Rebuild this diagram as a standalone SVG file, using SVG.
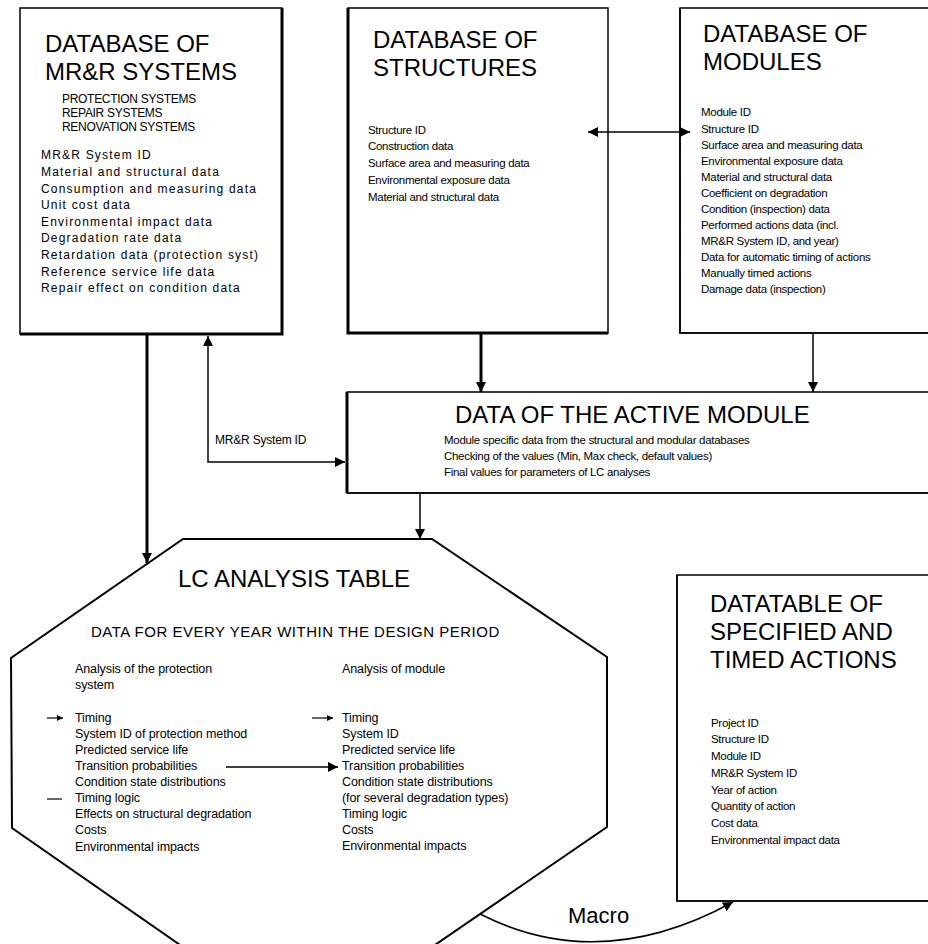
<svg xmlns="http://www.w3.org/2000/svg" width="928" height="944" viewBox="0 0 928 944">
<defs>
<style>
text{font-family:"Liberation Sans",Arial,sans-serif;fill:#000}
.t{font-size:24px}
.s{font-size:11.5px;letter-spacing:-0.3px}
.w{font-size:12px;letter-spacing:1.2px}
.sub{font-size:12px;letter-spacing:-0.3px}
.o{font-size:12.5px;letter-spacing:-0.1px}
.box{fill:#fff;stroke:#000;stroke-width:1.5}
.thk{stroke:#000;stroke-width:3;fill:none}
.ln{stroke:#000;stroke-width:1.5;fill:none}
.lnb{stroke:#000;stroke-width:3;fill:none}
</style>
<marker id="ah" viewBox="0 0 10 10" refX="10" refY="5" markerWidth="10" markerHeight="10" markerUnits="userSpaceOnUse" orient="auto-start-reverse"><path d="M0,0 L10,5 L0,10 z" fill="#000"/></marker>
<marker id="ahs" viewBox="0 0 10 10" refX="10" refY="5" markerWidth="7" markerHeight="6" markerUnits="userSpaceOnUse" orient="auto"><path d="M0,0 L10,5 L0,10 z" fill="#000"/></marker>
</defs>
<rect width="928" height="944" fill="#fff"/>

<g id="db-mrr">
<rect class="box" x="20" y="8" width="262" height="326"/>
<path class="thk" d="M282,8 V334 H20"/>
<text class="t" x="45" y="52">DATABASE OF</text>
<text class="t" x="45" y="80">MR&amp;R SYSTEMS</text>
<text class="sub" x="62" y="103">PROTECTION SYSTEMS</text>
<text class="sub" x="62" y="117">REPAIR SYSTEMS</text>
<text class="sub" x="62" y="131">RENOVATION SYSTEMS</text>
<text class="w" x="41" y="159">MR&amp;R System ID</text>
<text class="w" x="41" y="176">Material and structural data</text>
<text class="w" x="41" y="193">Consumption and measuring data</text>
<text class="w" x="41" y="209">Unit cost data</text>
<text class="w" x="41" y="226">Environmental impact data</text>
<text class="w" x="41" y="242">Degradation rate data</text>
<text class="w" x="41" y="259">Retardation data (protection syst)</text>
<text class="w" x="41" y="276">Reference service life data</text>
<text class="w" x="41" y="292">Repair effect on condition data</text>
</g>

<g id="db-structures">
<rect class="box" x="348" y="8" width="260" height="325"/>
<path class="thk" d="M348,8 V333 H608"/>
<text class="t" x="373" y="48">DATABASE OF</text>
<text class="t" x="373" y="76">STRUCTURES</text>
<text class="s" x="368" y="134">Structure ID</text>
<text class="s" x="368" y="150">Construction data</text>
<text class="s" x="368" y="167">Surface area and measuring data</text>
<text class="s" x="368" y="184">Environmental exposure data</text>
<text class="s" x="368" y="201">Material and structural data</text>
</g>

<g id="db-modules">
<rect class="box" x="680" y="8" width="260" height="325"/>
<path class="ln" d="M680,8 V333 H930" stroke-width="2"/>
<text class="t" x="703" y="42">DATABASE OF</text>
<text class="t" x="703" y="70">MODULES</text>
<text class="s" x="701" y="116">Module ID</text>
<text class="s" x="701" y="133">Structure ID</text>
<text class="s" x="701" y="149">Surface area and measuring data</text>
<text class="s" x="701" y="165">Environmental exposure data</text>
<text class="s" x="701" y="181">Material and structural data</text>
<text class="s" x="701" y="197">Coefficient on degradation</text>
<text class="s" x="701" y="213">Condition (inspection) data</text>
<text class="s" x="701" y="229">Performed actions data (incl.</text>
<text class="s" x="701" y="245">MR&amp;R System ID, and year)</text>
<text class="s" x="701" y="261">Data for automatic timing of actions</text>
<text class="s" x="701" y="277">Manually timed actions</text>
<text class="s" x="701" y="293">Damage data (inspection)</text>
</g>

<g id="active-module">
<rect class="box" x="347" y="392" width="590" height="101"/>
<path class="thk" d="M347,392 V493"/>
<path class="ln" d="M347,493 H930" stroke-width="2"/>
<text class="t" x="455" y="423">DATA OF THE ACTIVE MODULE</text>
<text class="s" x="444" y="444">Module specific data from the structural and modular databases</text>
<text class="s" x="444" y="460">Checking of the values (Min, Max check, default values)</text>
<text class="s" x="444" y="476">Final values for parameters of LC analyses</text>
</g>

<g id="lc-table">
<polygon points="183,539 432,539 607,657 607,827 432,947 183,947 12,828 11,658" fill="#fff" stroke="#000" stroke-width="2"/>
<text class="t" x="178" y="587">LC ANALYSIS TABLE</text>
<text x="91" y="637" style="font-size:15px;letter-spacing:0.5px">DATA FOR EVERY YEAR WITHIN THE DESIGN PERIOD</text>
<text class="o" x="75" y="673">Analysis of the protection</text>
<text class="o" x="75" y="689">system</text>
<text class="o" x="75" y="722">Timing</text>
<text class="o" x="75" y="738">System ID of protection method</text>
<text class="o" x="75" y="754">Predicted service life</text>
<text class="o" x="75" y="770">Transition probabilities</text>
<text class="o" x="75" y="786">Condition state distributions</text>
<text class="o" x="75" y="802">Timing logic</text>
<text class="o" x="75" y="818">Effects on structural degradation</text>
<text class="o" x="75" y="834">Costs</text>
<text class="o" x="75" y="851">Environmental impacts</text>
<text class="o" x="342" y="673">Analysis of module</text>
<text class="o" x="342" y="722">Timing</text>
<text class="o" x="342" y="738">System ID</text>
<text class="o" x="342" y="754">Predicted service life</text>
<text class="o" x="342" y="770">Transition probabilities</text>
<text class="o" x="342" y="786">Condition state distributions</text>
<text class="o" x="342" y="802">(for several degradation types)</text>
<text class="o" x="342" y="818">Timing logic</text>
<text class="o" x="342" y="834">Costs</text>
<text class="o" x="342" y="850">Environmental impacts</text>
</g>

<g id="timed-actions">
<rect class="box" x="677" y="575" width="260" height="326"/>
<path class="ln" d="M677,575 V901 H930" stroke-width="2"/>
<text class="t" x="710" y="612">DATATABLE OF</text>
<text class="t" x="710" y="640">SPECIFIED AND</text>
<text class="t" x="710" y="668">TIMED ACTIONS</text>
<text class="s" x="711" y="727">Project ID</text>
<text class="s" x="711" y="743">Structure ID</text>
<text class="s" x="711" y="760">Module ID</text>
<text class="s" x="711" y="777">MR&amp;R System ID</text>
<text class="s" x="711" y="794">Year of action</text>
<text class="s" x="711" y="810">Quantity of action</text>
<text class="s" x="711" y="827">Cost data</text>
<text class="s" x="711" y="844">Environmental impact data</text>
</g>

<g id="connectors">
<line class="lnb" x1="147" y1="334" x2="147" y2="563" marker-end="url(#ah)"/>
<line class="lnb" x1="481" y1="333" x2="481" y2="392" marker-end="url(#ah)"/>
<line class="ln" x1="813" y1="333" x2="813" y2="392" marker-end="url(#ah)"/>
<line class="ln" x1="588" y1="132" x2="690" y2="132" marker-start="url(#ah)" marker-end="url(#ah)"/>
<polyline class="ln" points="208,336 208,462 345,462" marker-start="url(#ah)" marker-end="url(#ah)"/>
<text x="215" y="444" style="font-size:12px;letter-spacing:-0.2px">MR&amp;R System ID</text>
<line class="ln" x1="420" y1="493" x2="420" y2="539" marker-end="url(#ah)"/>
<line x1="47" y1="718" x2="63" y2="718" stroke="#000" stroke-width="1.2" marker-end="url(#ahs)"/>
<line x1="47" y1="799" x2="62" y2="799" stroke="#000" stroke-width="1.2"/>
<line x1="312" y1="718" x2="333" y2="718" stroke="#000" stroke-width="1.2" marker-end="url(#ahs)"/>
<line class="ln" x1="226" y1="767" x2="338" y2="767" marker-end="url(#ah)"/>
<path class="ln" d="M480,914 Q600,975 733,902" marker-end="url(#ah)"/>
<text x="568" y="923" style="font-size:22px">Macro</text>
</g>
</svg>
